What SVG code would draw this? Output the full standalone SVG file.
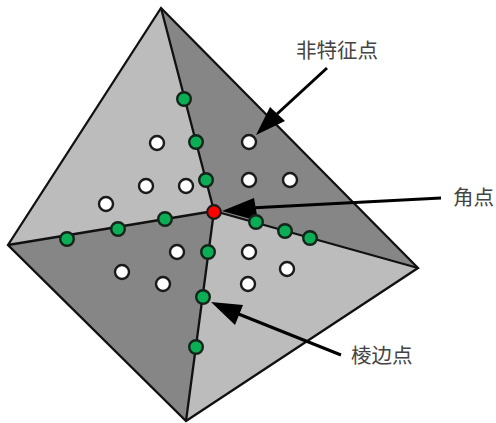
<svg xmlns="http://www.w3.org/2000/svg" width="496" height="423" viewBox="0 0 496 423">
<style>
.f{stroke:none}
.e{fill:none;stroke:#111;stroke-width:2.3;stroke-linejoin:miter}
.l{fill:none;stroke:#000;stroke-width:3}
.h{fill:#000;stroke:none}
.g{fill:#0cae55;stroke:#14241a;stroke-width:2.4}
.w{fill:#fff;stroke:#1a1a1a;stroke-width:2.4}
.r{fill:#f00;stroke:#1a1a1a;stroke-width:2.2}
text{font-family:"Noto Sans CJK SC","Noto Sans CJK JP",serif;font-size:20.5px;fill:#444;font-weight:400}
</style>
<rect width="496" height="423" fill="#fff"/>
<g id="faces">
<polygon class="f" fill="#bcbcbc" points="161,8 8,245 214,211"/>
<polygon class="f" fill="#868686" points="161,8 418,268 214,211"/>
<polygon class="f" fill="#868686" points="8,245 186,421 214,211"/>
<polygon class="f" fill="#bcbcbc" points="418,268 186,421 214,211"/>
</g>
<g id="edges">
<polygon class="e" points="161,8 418,268 186,421 8,245"/>
<path class="e" d="M161,8L214,211M8,245L214,211M418,268L214,211M186,421L214,211"/>
</g>
<g id="connectors">
<path class="l" d="M327,68L277,114"/>
<polygon class="h" points="256,135 270,107 285,121"/>
<path class="l" d="M441,198L250,208"/>
<polygon class="h" points="222,211 254,198 258,221"/>
<path class="l" d="M341,355L236,313"/>
<polygon class="h" points="211,302 243,305 235,325"/>
</g>
<g id="edge-points">
<circle class="g" cx="184" cy="99" r="6.8"/>
<circle class="g" cx="196" cy="142" r="6.8"/>
<circle class="g" cx="206" cy="180" r="6.8"/>
<circle class="g" cx="165" cy="219" r="6.8"/>
<circle class="g" cx="118" cy="229" r="6.8"/>
<circle class="g" cx="67" cy="239" r="6.8"/>
<circle class="g" cx="208" cy="252" r="6.8"/>
<circle class="g" cx="203" cy="297" r="6.8"/>
<circle class="g" cx="196" cy="347" r="6.8"/>
<circle class="g" cx="256" cy="222" r="6.8"/>
<circle class="g" cx="285" cy="231" r="6.8"/>
<circle class="g" cx="310" cy="238" r="6.8"/>
</g>
<g id="non-feature-points">
<circle class="w" cx="157" cy="143" r="7"/>
<circle class="w" cx="146" cy="186" r="7"/>
<circle class="w" cx="186" cy="186" r="7"/>
<circle class="w" cx="106" cy="204" r="7"/>
<circle class="w" cx="249" cy="142" r="7"/>
<circle class="w" cx="249" cy="180" r="7"/>
<circle class="w" cx="290" cy="180" r="7"/>
<circle class="w" cx="177" cy="252" r="7"/>
<circle class="w" cx="122" cy="272" r="7"/>
<circle class="w" cx="163" cy="284" r="7"/>
<circle class="w" cx="249" cy="252" r="7"/>
<circle class="w" cx="287" cy="269" r="7"/>
<circle class="w" cx="248" cy="284" r="7"/>
</g>
<g id="corner-point"><circle class="r" cx="214" cy="212" r="6.8"/></g>
<g id="label-nonfeature"><text x="296" y="58">非特征点</text></g>
<g id="label-corner"><text x="453" y="205">角点</text></g>
<g id="label-edge"><text x="351" y="363">棱边点</text></g>
</svg>
